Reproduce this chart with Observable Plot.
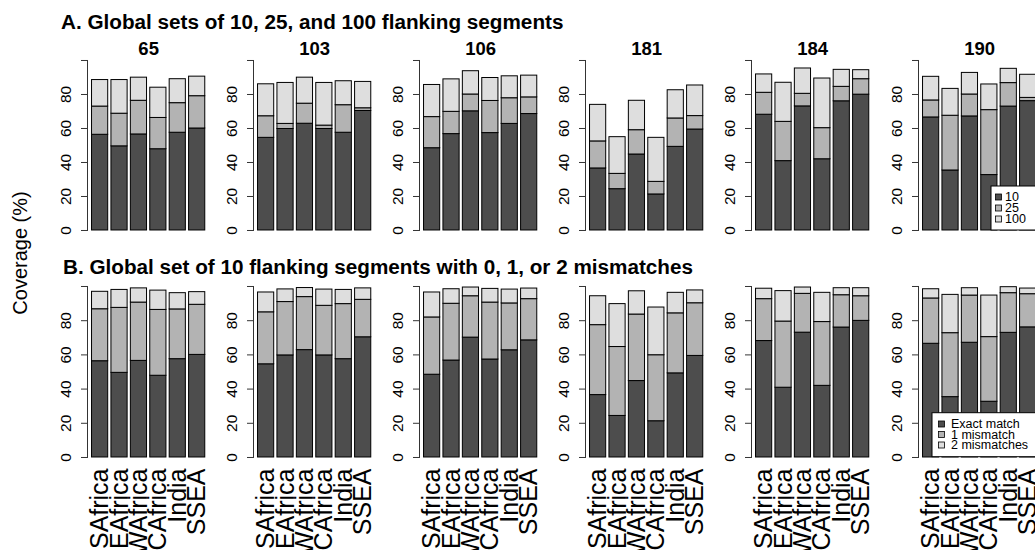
<!DOCTYPE html>
<html><head><meta charset="utf-8">
<script src="https://cdn.jsdelivr.net/npm/d3@7"></script>
<script src="https://cdn.jsdelivr.net/npm/@observablehq/plot@0.6"></script>
<style>
html,body{margin:0;padding:0;background:#fff;overflow:hidden;}
#chart{position:relative;width:1035px;height:550px;overflow:hidden;background:#fff;}
#chart svg{position:absolute;}
</style></head><body><div id="chart"></div>
<script>
const regions = ["SAfrica","EAfrica","WAfrica","CAfrica","India","SSEA"];
const loci = ["65","103","106","181","184","190"];

// cumulative coverage (%) per locus (rows) and region (columns)
const cov10 = [
  [56.3, 49.5, 56.5, 47.8, 57.5, 60.0],
  [54.5, 59.7, 62.8, 59.7, 57.5, 70.3],
  [48.4, 56.7, 70.1, 57.3, 62.7, 68.5],
  [36.5, 24.3, 44.7, 21.2, 49.2, 59.4],
  [68.1, 40.8, 73.0, 41.9, 76.0, 79.9],
  [66.5, 35.3, 67.1, 32.6, 72.9, 76.1]
];
const cov25 = [
  [72.9, 68.7, 76.3, 66.2, 74.9, 79.0],
  [67.2, 62.7, 74.6, 61.7, 73.7, 71.9],
  [66.7, 69.8, 80.0, 76.2, 77.8, 78.3],
  [52.4, 33.3, 59.0, 28.6, 65.9, 67.3],
  [81.0, 63.9, 80.4, 60.2, 84.5, 89.0],
  [76.5, 67.5, 80.0, 70.8, 86.7, 78.0]
];
const cov100 = [
  [88.5, 88.5, 89.9, 84.0, 89.0, 90.5],
  [86.0, 86.8, 89.9, 86.8, 87.8, 87.4],
  [85.6, 88.9, 93.7, 89.7, 90.7, 91.1],
  [73.9, 54.9, 76.3, 54.5, 82.5, 85.3],
  [91.8, 86.9, 95.3, 89.4, 94.5, 94.3],
  [90.4, 83.3, 92.7, 85.9, 95.1, 91.6]
];
const cov1mm = [
  [86.7, 87.5, 90.6, 86.3, 86.6, 89.3],
  [84.9, 90.9, 93.8, 88.7, 89.7, 92.2],
  [81.9, 89.9, 94.3, 90.6, 90.1, 92.6],
  [77.4, 64.6, 83.6, 59.8, 84.3, 90.2],
  [92.6, 79.5, 95.7, 79.2, 94.9, 94.3],
  [93.0, 72.7, 94.7, 70.4, 96.1, 95.5]
];
const cov2mm = [
  [96.9, 98.0, 98.9, 97.6, 96.1, 96.7],
  [96.5, 98.3, 99.1, 98.2, 98.0, 98.9],
  [96.5, 98.4, 99.4, 98.6, 98.2, 98.8],
  [94.3, 89.7, 97.2, 87.7, 96.3, 97.7],
  [98.7, 97.3, 99.4, 96.3, 99.0, 99.0],
  [98.4, 95.1, 99.0, 94.7, 99.6, 98.8]
];
const levelsA = ["10","25","100"];
const levelsB = ["Exact match","1 mismatch","2 mismatches"];
const grays = ["#4D4D4D","#B3B3B3","#DEDEDE"];
const yTicks = [0,20,40,60,80,100];
const rowTitles = ["A. Global sets of 10, 25, and 100 flanking segments",
                   "B. Global set of 10 flanking segments with 0, 1, or 2 mismatches"];
const yLabel = "Coverage (%)";

const FONT = '"Liberation Sans", Arial, Helvetica, sans-serif';
const chart = document.getElementById("chart");

function stackRows(series, levels, li) {
  const rows = [];
  regions.forEach((r, i) => {
    let prev = 0;
    series.forEach((s, k) => {
      rows.push({region: r, level: levels[k], y1: prev, y2: s[li][i]});
      prev = s[li][i];
    });
  });
  return rows;
}

// layout
const colStep = 166.2, frameLeft0 = 86.5, frameW = 122.3;
const ML = 50, MR = 2, MT = 30;

function panel(li, row) {
  const isB = row === 1;
  const levels = isB ? levelsB : levelsA;
  const data = isB ? stackRows([cov10, cov1mm, cov2mm], levelsB, li)
                   : stackRows([cov10, cov25, cov100], levelsA, li);
  const FH = isB ? 171 : 170;
  const MB = isB ? 100 : 6;
  const svg = Plot.plot({
    width: ML + frameW + MR, height: MT + FH + MB,
    marginLeft: ML, marginRight: MR, marginTop: MT, marginBottom: MB,
    style: {background: "transparent", overflow: "visible", fontFamily: FONT, color: "black"},
    x: {type: "band", domain: regions, paddingInner: 1/6, paddingOuter: 0.2333, round: false, axis: null},
    y: {domain: [0, 100], axis: null},
    color: {domain: levels, range: grays},
    marks: [
      Plot.barY(data, {x: "region", y1: "y1", y2: "y2", fill: "level", stroke: "black", strokeWidth: 1}),
      Plot.frame({anchor: "left", stroke: "#333"}),
      Plot.axisY({ticks: yTicks, tickFormat: d => d === 100 ? "" : String(d), label: null,
                  tickSize: 6, tickPadding: 11, tickRotate: -90, fontSize: 15.5, stroke: "#333"}),
      isB ? Plot.axisX({tickSize: 0, tickPadding: 11, tickRotate: -90, fontSize: 25, label: null}) : null,
      !isB ? Plot.text([loci[li]], {frameAnchor: "top", dy: -5, lineAnchor: "bottom",
                  text: d => d, fontWeight: "bold", fontSize: 18.5}) : null
    ]
  });
  svg.style.left = (frameLeft0 + li * colStep - ML) + "px";
  svg.style.top = (isB ? 255.7 : 30) + "px";
  chart.appendChild(svg);
}

for (let row = 0; row < 2; row++)
  for (let li = 0; li < loci.length; li++) panel(li, row);

// overlay: titles, y label, legends
const ov = d3.create("svg").attr("width", 1035).attr("height", 550)
  .style("left", "0px").style("top", "0px").style("font-family", FONT);
ov.append("text").attr("x", 61).attr("y", 29).attr("font-size", 20.7).attr("font-weight", "bold").text(rowTitles[0]);
ov.append("text").attr("x", 63).attr("y", 274).attr("font-size", 20.7).attr("font-weight", "bold").text(rowTitles[1]);
ov.append("text").attr("transform", "translate(27,253) rotate(-90)").attr("text-anchor", "middle")
  .attr("font-size", 20).text(yLabel);

function legend(levels, bx, by, sqx, tx, rows) {
  const g = ov.append("g");
  g.append("rect").attr("x", bx).attr("y", by).attr("width", 1040 - bx).attr("height", 44)
    .attr("fill", "white").attr("stroke", "black").attr("stroke-width", 1);
  levels.forEach((l, k) => {
    g.append("rect").attr("x", sqx - 3).attr("y", rows[k] - 3).attr("width", 6).attr("height", 6)
      .attr("fill", grays[k]).attr("stroke", "black").attr("stroke-width", 0.8);
    g.append("text").attr("x", tx).attr("y", rows[k]).attr("dy", "0.35em").attr("font-size", 12.5).text(l);
  });
}
legend(levelsA, 991, 186, 998.5, 1005, [197, 208, 219]);
legend(levelsB, 932, 412.7, 941.5, 951, [424, 434.5, 445]);
chart.appendChild(ov.node());
</script></body></html>
